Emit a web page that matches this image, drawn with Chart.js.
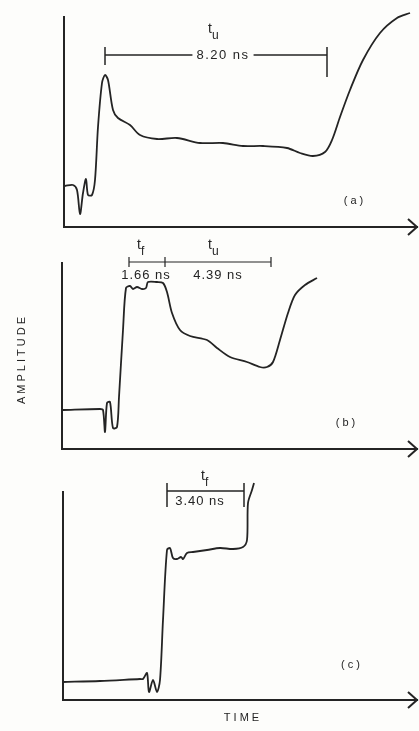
<!DOCTYPE html>
<html>
<head>
<meta charset="utf-8">
<script src="https://cdn.jsdelivr.net/npm/chart.js@4/dist/chart.umd.min.js"></script>
<style>
html,body{margin:0;padding:0;background:#fdfdfb;}
#wrap{position:relative;width:419px;height:731px;overflow:hidden;}
canvas{position:absolute;left:0;top:0;}
</style>
</head>
<body>
<div id="wrap">
<canvas id="chartA" width="419" height="731"></canvas>
<canvas id="chartB" width="419" height="731"></canvas>
<canvas id="chartC" width="419" height="731"></canvas>
</div>
<script>
// trace (a) - time / amplitude in screen divisions
var timeA = [1, 9, 13, 16, 19, 22, 24, 28, 31, 34, 38, 41, 44, 49, 54, 66, 76, 93, 113, 136, 159, 179, 199, 223, 236, 249, 261, 268, 276, 286, 299, 316, 333, 346]
var ampA  = [41, 42, 37, 13, 34, 48, 32, 32, 47, 100, 144, 152, 147, 117, 109, 102, 92, 88, 89, 84, 84, 81, 81, 79, 74, 71, 75, 87, 110, 137, 167, 194, 209, 214]

// trace (b)
var timeB = [1, 38, 41, 43, 45, 48, 51, 55, 57, 61, 64, 68, 71, 75, 80, 84, 86, 95, 101, 105, 110, 118, 128, 145, 155, 168, 185, 198, 205, 211, 218, 226, 233, 243, 255]
var ampB  = [39, 40, 39, 17, 46, 47, 21, 22, 52, 119, 161, 163, 160, 162, 160, 161, 167, 167, 166, 157, 136, 119, 113, 109, 101, 92, 87, 82, 82, 87, 109, 136, 154, 164, 171]

// trace (c)
var timeC = [0, 37, 77, 80, 84, 86, 90, 94, 97, 100, 104, 107, 110, 114, 118, 120, 124, 130, 144, 157, 170, 180, 184, 185, 189, 191]
var ampC  = [18, 19, 21, 21, 27, 8, 20, 8, 20, 80, 150, 152, 142, 141, 143, 141, 147, 148, 150, 152, 151, 153, 160, 197, 210, 217]

// measurement markers (tick positions on the time axis)
var marksA = [41, 263]
var marksB = [67, 103, 209]
var marksC = [104, 181]
var labelsA = ["8.20 ns"]
var labelsB = ["1.66 ns", "4.39 ns"]
var labelsC = ["3.40 ns"]

var ink = "#242424"
var paper = "#fdfdfb"
var font = "'Liberation Sans', 'DejaVu Sans', sans-serif"

function trace(t, v){
    return t.map(function(x, i){ return {x: x, y: v[i]} })
}

// horizontal dimension line + vertical end ticks, split with gaps
function dimLine(marks, level, top, bottom){
    var pts = [{x: marks[0], y: level}, {x: marks[marks.length-1], y: level}, {x: marks[0], y: null}]
    for(var i = 0; i < marks.length; i++){
        var b = Array.isArray(bottom) ? bottom[i] : bottom
        pts.push({x: marks[i], y: top})
        pts.push({x: marks[i], y: b})
        pts.push({x: marks[i], y: null})
    }
    return pts
}

var extras = {
    id: 'extras',
    afterDraw: function(chart){
        var o = chart.options.plugins.extras
        var ctx = chart.ctx
        var xs = chart.scales.x, ys = chart.scales.y
        var a = chart.chartArea
        ctx.save()
        ctx.strokeStyle = ink
        ctx.lineWidth = 2
        ctx.beginPath()
        ctx.moveTo(a.right - 9, a.bottom - 8)
        ctx.lineTo(a.right, a.bottom)
        ctx.lineTo(a.right - 9, a.bottom + 8)
        ctx.stroke()
        ctx.fillStyle = ink
        ctx.textBaseline = 'middle'
        o.texts.forEach(function(t){
            var px = xs.getPixelForValue(t.x)
            var py = ys.getPixelForValue(t.y)
            ctx.save()
            ctx.font = (t.size || 12) + "px " + font
            ctx.letterSpacing = (t.spacing || 0) + "px"
            ctx.translate(px, py)
            if(t.rotate) ctx.rotate(t.rotate)
            var w = ctx.measureText(t.text).width
            if(t.mask){
                ctx.fillStyle = paper
                ctx.fillRect(-w/2 - 4, -7, w + 8, 14)
                ctx.fillStyle = ink
            }
            ctx.textAlign = 'center'
            if(t.sub){
                ctx.textAlign = 'left'
                ctx.fillText(t.text, -5, -3)
                ctx.font = (t.size - 2) + "px " + font
                ctx.fillText(t.sub, -1, 4)
            } else {
                ctx.fillText(t.text, 0, 0)
            }
            ctx.restore()
        })
        ctx.restore()
    }
}

function makeChart(id, xLen, yLen, pad, datasets, texts){
    return new Chart(id, {
        type: "line",
        data: {datasets: datasets},
        options: {
            responsive: false,
            animation: false,
            events: [],
            layout: {padding: pad},
            elements: {point: {radius: 0}, line: {borderColor: ink, borderWidth: 1.8, tension: 0.3}},
            plugins: {legend: {display: false}, tooltip: {enabled: false}, extras: {texts: texts}},
            scales: {
                x: {type: "linear", min: 0, max: xLen, ticks: {display: false},
                    grid: {display: false, drawTicks: false}, border: {display: true, color: ink, width: 2}},
                y: {type: "linear", min: 0, max: yLen, ticks: {display: false},
                    grid: {display: false, drawTicks: false}, border: {display: true, color: ink, width: 2}}
            }
        },
        plugins: [extras]
    })
}

makeChart("chartA", 353, 210, {left: 64, top: 17, right: 2, bottom: 504}, [
    {data: trace(timeA, ampA), clip: false},
    {data: dimLine(marksA, 172, 180, [162, 150]), tension: 0, borderWidth: 1.5, clip: false}
], [
    {text: "t", sub: "u", x: 149, y: 195, size: 14},
    {text: labelsA[0], x: 159, y: 172, size: 13, spacing: 1.5, mask: true},
    {text: "(a)", x: 291, y: 26, size: 11, spacing: 3}
])

makeChart("chartB", 355, 186, {left: 62, top: 263, right: 2, bottom: 282}, [
    {data: trace(timeB, ampB), clip: false},
    {data: dimLine(marksB, 187, 192, 182), tension: 0, borderWidth: 1.2, clip: false}
], [
    {text: "t", sub: "f", x: 80, y: 201, size: 14},
    {text: "t", sub: "u", x: 151, y: 201, size: 14},
    {text: labelsB[0], x: 84, y: 174, size: 13, spacing: 1},
    {text: labelsB[1], x: 156, y: 174, size: 13, spacing: 1},
    {text: "(b)", x: 285, y: 26, size: 11, spacing: 3},
    {text: "AMPLITUDE", x: -40, y: 90, size: 11, spacing: 3, rotate: -Math.PI/2}
])

makeChart("chartC", 354, 208, {left: 63, top: 492, right: 2, bottom: 31}, [
    {data: trace(timeC, ampC), clip: false},
    {data: dimLine(marksC, 209, 217, 193), tension: 0, borderWidth: 1.5, clip: false}
], [
    {text: "t", sub: "f", x: 143, y: 221, size: 14},
    {text: labelsC[0], x: 137, y: 199, size: 13, spacing: 1},
    {text: "(c)", x: 289, y: 35, size: 11, spacing: 3},
    {text: "TIME", x: 180, y: -18, size: 11, spacing: 3}
])
</script>
</body>
</html>
